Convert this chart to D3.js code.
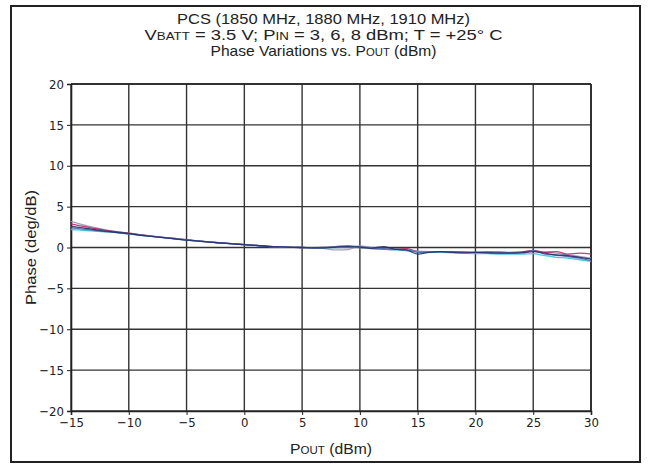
<!DOCTYPE html>
<html><head><meta charset="utf-8">
<script src="https://cdn.jsdelivr.net/npm/d3@7"></script>
<style>
body{margin:0;background:#fff;}
text{font-family:"Liberation Sans",Arial,sans-serif;fill:#222;}
</style></head><body>
<svg id="c" width="649" height="466"></svg>
<script>
const xTicks = [-15,-10,-5,0,5,10,15,20,25,30];
const yTicks = [-20,-15,-10,-5,0,5,10,15,20];
const pout = d3.range(-15,31,1);
const seriesNavy = [2.6,2.4,2.2,2.0,1.85,1.7,1.5,1.35,1.2,1.05,0.9,0.78,0.65,0.55,0.45,0.35,0.25,0.15,0.08,0.02,0,-0.05,-0.05,0.05,0.1,0.05,-0.1,0.1,-0.2,-0.3,-0.8,-0.6,-0.5,-0.6,-0.65,-0.6,-0.65,-0.7,-0.7,-0.65,-0.5,-0.7,-0.9,-1.0,-1.2,-1.4];
const seriesMagenta = [2.9,2.6,2.35,2.1,1.9,1.75,1.55,1.4,1.25,1.1,0.95,0.8,0.68,0.57,0.46,0.36,0.26,0.16,0.08,0.03,0,-0.02,0,0.1,0.15,0.0,-0.15,-0.2,-0.25,-0.1,-0.5,-0.6,-0.55,-0.5,-0.55,-0.6,-0.55,-0.55,-0.6,-0.55,-0.35,-0.6,-0.5,-0.8,-0.7,-0.8];
const seriesCyan = [2.2,2.1,2.0,1.9,1.8,1.65,1.5,1.35,1.2,1.05,0.9,0.78,0.66,0.55,0.44,0.34,0.24,0.14,0.07,0.02,0,-0.03,-0.05,0.0,0.05,0.0,-0.1,-0.2,-0.3,-0.4,-0.5,-0.6,-0.6,-0.65,-0.7,-0.75,-0.75,-0.8,-0.8,-0.8,-0.75,-1.0,-1.2,-1.3,-1.5,-1.7];
const seriesGray = [3.2,2.8,2.45,2.15,1.95,1.75,1.55,1.4,1.25,1.1,0.95,0.8,0.67,0.56,0.45,0.35,0.25,0.15,0.08,0.03,0,-0.05,-0.15,-0.3,-0.25,0.2,0.0,-0.1,-0.2,-0.35,-0.45,-0.5,-0.55,-0.55,-0.6,-0.6,-0.6,-0.65,-0.7,-0.6,-0.45,-0.55,-0.7,-0.9,-1.1,-1.3];
const seriesBlue2 = [2.4,2.25,2.1,1.95,1.82,1.68,1.52,1.37,1.22,1.07,0.92,0.8,0.67,0.56,0.45,0.35,0.25,0.15,0.08,0.03,0,-0.03,0.0,0.15,0.2,0.1,-0.05,-0.15,-0.2,-0.25,-0.6,-0.55,-0.5,-0.55,-0.6,-0.6,-0.6,-0.65,-0.65,-0.6,-0.4,-0.8,-0.95,-1.1,-1.3,-1.6];
const series = [
  {name:"gray", color:"#9a96b8", values:seriesGray},
  {name:"magenta", color:"#b0306a", values:seriesMagenta},
  {name:"cyan", color:"#3fc0d8", values:seriesCyan},
  {name:"blue2", color:"#4a6aa8", values:seriesBlue2},
  {name:"navy", color:"#2a2e6e", values:seriesNavy}
];

const svg = d3.select("#c");
const L=71, R=591, T=84, B=411;
const x = d3.scaleLinear().domain([-15,30]).range([L,R]);
const y = d3.scaleLinear().domain([-20,20]).range([B,T]);

svg.append("rect").attr("x",11).attr("y",6).attr("width",629).attr("height",456)
  .attr("fill","none").attr("stroke","#222").attr("stroke-width",2);

const g = svg.append("g");
g.selectAll(".vg").data(xTicks).join("line")
  .attr("x1",d=>x(d)).attr("x2",d=>x(d)).attr("y1",T).attr("y2",B)
  .attr("stroke","#333").attr("stroke-width",1.4);
g.selectAll(".hg").data(yTicks).join("line")
  .attr("x1",L).attr("x2",R).attr("y1",d=>y(d)).attr("y2",d=>y(d))
  .attr("stroke","#333").attr("stroke-width",1.4);

const tickFont = '"DejaVu Sans Condensed","Liberation Sans",sans-serif';
const xa = svg.append("g").attr("transform",`translate(0,${B})`)
  .call(d3.axisBottom(x).tickValues(xTicks).tickSize(4).tickPadding(3).tickFormat(d=>String(d).replace("-","\u2212")));
const ya = svg.append("g").attr("transform",`translate(${L},0)`)
  .call(d3.axisLeft(y).tickValues(yTicks).tickSize(4).tickPadding(3).tickFormat(d=>String(d).replace("-","\u2212")));
[xa,ya].forEach(a=>{
  a.select(".domain").attr("stroke","#222").attr("stroke-width",1.6);
  a.selectAll(".tick line").attr("stroke","#222");
  a.selectAll(".tick text").attr("font-size",13).attr("fill","#222").style("font-family",tickFont);
});
svg.append("line").attr("x1",L).attr("x2",R).attr("y1",T).attr("y2",T).attr("stroke","#222").attr("stroke-width",1.6);
svg.append("line").attr("x1",R).attr("x2",R).attr("y1",T).attr("y2",B).attr("stroke","#222").attr("stroke-width",1.6);

const line = d3.line().x((d,i)=>x(pout[i])).y(d=>y(d)).curve(d3.curveMonotoneX);
svg.append("g").selectAll("path").data(series).join("path")
  .attr("d",d=>line(d.values)).attr("fill","none")
  .attr("stroke",d=>d.color).attr("stroke-width",1.3).attr("opacity",0.9);

const cx = 323.5;
const fs = 14.5, sc = 10.5;
svg.append("text").attr("x",cx).attr("y",24).attr("text-anchor","middle").attr("font-size",fs)
  .attr("textLength",293).attr("lengthAdjust","spacingAndGlyphs")
  .text("PCS (1850 MHz, 1880 MHz, 1910 MHz)");
const t2 = svg.append("text").attr("x",cx).attr("y",40).attr("text-anchor","middle").attr("font-size",fs)
  .attr("textLength",358).attr("lengthAdjust","spacingAndGlyphs");
t2.append("tspan").text("V");
t2.append("tspan").attr("font-size",sc).text("BATT");
t2.append("tspan").text(" = 3.5 V; P");
t2.append("tspan").attr("font-size",sc).text("IN");
t2.append("tspan").text(" = 3, 6, 8 dBm; T = +25° C");
const t3 = svg.append("text").attr("x",cx).attr("y",56).attr("text-anchor","middle").attr("font-size",fs)
  .attr("textLength",226).attr("lengthAdjust","spacingAndGlyphs");
t3.append("tspan").text("Phase Variations vs. P");
t3.append("tspan").attr("font-size",sc).text("OUT");
t3.append("tspan").text(" (dBm)");

const xl = svg.append("text").attr("x",x(7.5)).attr("y",454).attr("text-anchor","middle").attr("font-size",15)
  .attr("textLength",82).attr("lengthAdjust","spacingAndGlyphs");
xl.append("tspan").text("P");
xl.append("tspan").attr("font-size",11).text("OUT");
xl.append("tspan").text(" (dBm)");
svg.append("text").attr("transform",`translate(36,${y(0)}) rotate(-90)`).attr("text-anchor","middle")
  .attr("font-size",15).attr("textLength",115).attr("lengthAdjust","spacingAndGlyphs").text("Phase (deg/dB)");
</script>
</body></html>
